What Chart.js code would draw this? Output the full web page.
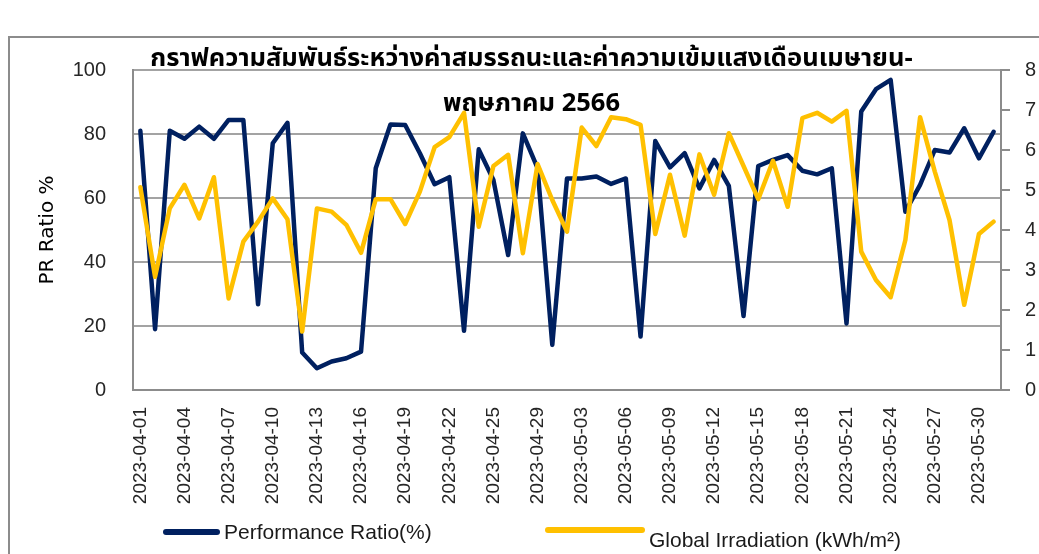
<!DOCTYPE html>
<html lang="th">
<head>
<meta charset="utf-8">
<title>PR Ratio / Global Irradiation</title>
<script src="https://cdn.jsdelivr.net/npm/chart.js@4.4.0/dist/chart.umd.min.js"></script>
<style>
  html, body { margin: 0; padding: 0; background: #fff; overflow: hidden; }
  #wrap { position: relative; width: 1039px; height: 554px; }
  /* outer chart frame, only its left and top edges fall inside the page */
  #frame { position: absolute; left: 8px; top: 36px; width: 1100px; height: 600px;
           border-left: 2px solid #8c8c8c; border-top: 2px solid #8c8c8c; }
  #prChart { position: absolute; left: 0; top: 0; }
  #legend .item { position: absolute; display: flex; align-items: center; white-space: nowrap;
                  font: 21px 'Liberation Sans', Arial, sans-serif; color: #1a1a1a; line-height: 24px; }
  #legend .swatch { height: 6px; border-radius: 3px; margin-right: 4px; }
  #legend .item-0 { left: 163px; top: 520px; }
  #legend .item-0 .swatch { width: 57px; }
  #legend .item-1 { left: 545px; top: 518px; }
  #legend .item-1 .swatch { width: 100px; }
  #legend .item-1 .label { position: relative; top: 10px; }
</style>
</head>
<body>
<div id="wrap">
  <div id="frame"></div>
  <canvas id="prChart" width="1039" height="554"></canvas>
  <div id="legend"></div>
</div>
<script>
// daily records, April - May 2023 (two days have no record)
const dates = [
  '2023-04-01', '2023-04-02', '2023-04-03', '2023-04-04', '2023-04-05', '2023-04-06',
  '2023-04-07', '2023-04-08', '2023-04-09', '2023-04-10', '2023-04-11', '2023-04-12',
  '2023-04-13', '2023-04-14', '2023-04-15', '2023-04-16', '2023-04-17', '2023-04-18',
  '2023-04-19', '2023-04-20', '2023-04-21', '2023-04-22', '2023-04-23', '2023-04-24',
  '2023-04-25', '2023-04-26', '2023-04-28', '2023-04-29', '2023-04-30', '2023-05-02',
  '2023-05-03', '2023-05-04', '2023-05-05', '2023-05-06', '2023-05-07', '2023-05-08',
  '2023-05-09', '2023-05-10', '2023-05-11', '2023-05-12', '2023-05-13', '2023-05-14',
  '2023-05-15', '2023-05-16', '2023-05-17', '2023-05-18', '2023-05-19', '2023-05-20',
  '2023-05-21', '2023-05-22', '2023-05-23', '2023-05-24', '2023-05-25', '2023-05-26',
  '2023-05-27', '2023-05-28', '2023-05-29', '2023-05-30', '2023-05-31'
];

// performance ratio, %
const prRatio = [
  81.0, 19.0, 81.0, 78.5, 82.3, 78.5, 84.4, 84.4, 26.8, 77.1,
  83.5, 11.7, 6.8, 8.9, 9.9, 12.0, 69.3, 83.0, 82.8, 74.0,
  64.3, 66.5, 18.5, 75.2, 65.6, 42.2, 80.2, 69.3, 14.1, 66.1,
  66.1, 66.7, 64.4, 66.1, 16.7, 77.8, 69.6, 74.0, 63.0, 71.9,
  63.8, 23.1, 70.0, 71.9, 73.4, 68.5, 67.4, 69.3, 20.8, 87.0,
  94.0, 96.9, 55.7, 64.1, 75.0, 74.2, 81.8, 72.4, 80.7
];

// global irradiation, kWh/m2
const irradiation = [
  5.07, 2.83, 4.54, 5.13, 4.29, 5.32, 2.29, 3.71, 4.21, 4.79,
  4.27, 1.46, 4.54, 4.46, 4.13, 3.43, 4.77, 4.77, 4.15, 4.96,
  6.07, 6.32, 6.93, 4.08, 5.60, 5.88, 3.42, 5.65, 4.75, 3.96,
  6.56, 6.10, 6.82, 6.77, 6.63, 3.90, 5.38, 3.86, 5.89, 4.88,
  6.42, 5.60, 4.77, 5.73, 4.58, 6.80, 6.93, 6.71, 6.98, 3.46,
  2.75, 2.32, 3.75, 6.82, 5.46, 4.25, 2.13, 3.90, 4.21
];

const titleLines = [
  'กราฟความสัมพันธ์ระหว่างค่าสมรรถนะและค่าความเข้มแสงเดือนเมษายน-',
  'พฤษภาคม 2566'
];

const navy = '#002060';
const gold = '#FFC000';
const gridGrey = '#a3a3a3';
const axisGrey = '#8c8c8c';
const tickText = '#262626';

Chart.defaults.font.family = "'Liberation Sans', Arial, sans-serif";

// two-line title, drawn under the lines so the series run over it
const titlePlugin = {
  id: 'twoLineTitle',
  beforeDatasetsDraw(chart) {
    const { ctx, chartArea } = chart;
    const cx = chart.width / 2 + 12;
    ctx.save();
    ctx.font = "bold 25.5px 'Noto Sans Thai', 'Noto Sans', Tahoma, sans-serif";
    ctx.fillStyle = '#000';
    ctx.textAlign = 'center';
    ctx.textBaseline = 'alphabetic';
    ctx.fillText(titleLines[0], cx, chartArea.top - 4);
    ctx.fillText(titleLines[1], cx, chartArea.top + 41);
    ctx.restore();
  }
};

const chart = new Chart(document.getElementById('prChart'), {
  type: 'line',
  data: {
    labels: dates,
    datasets: [
      {
        label: 'Performance Ratio(%)',
        data: prRatio,
        yAxisID: 'y',
        borderColor: navy,
        backgroundColor: navy,
        order: 1
      },
      {
        label: 'Global Irradiation (kWh/m²)',
        data: irradiation,
        yAxisID: 'y1',
        borderColor: gold,
        backgroundColor: gold,
        order: 0
      }
    ]
  },
  options: {
    responsive: false,
    animation: false,
    layout: { padding: { top: 70, bottom: 0, left: 0, right: 0 } },
    elements: {
      point: { radius: 0 },
      line: { borderWidth: 4.5, tension: 0, borderJoinStyle: 'round', borderCapStyle: 'round' }
    },
    plugins: {
      tooltip: { enabled: false },
      legend: { display: false }
    },
    scales: {
      x: {
        offset: true,
        grid: { drawOnChartArea: false, drawTicks: false },
        border: { display: true, color: axisGrey, width: 2 },
        ticks: {
          autoSkip: false,
          minRotation: 90,
          maxRotation: 90,
          padding: 17,
          color: tickText,
          font: { size: 19 },
          callback: function (val, i) {
            return i % 3 === 0 ? this.getLabelForValue(val) : '';
          }
        },
        afterFit: s => { s.height = 164; }
      },
      y: {
        position: 'left',
        min: 0,
        max: 100,
        ticks: { stepSize: 20, padding: 27, color: tickText, font: { size: 20 } },
        grid: { color: gridGrey, lineWidth: 2, drawTicks: false },
        border: { color: axisGrey, width: 2 },
        title: {
          display: true,
          text: 'PR Ratio %',
          color: '#000',
          font: { family: "'DejaVu Sans', sans-serif", size: 20 },
          padding: { top: 36, bottom: 0 }
        },
        afterFit: s => { s.width = 133; }
      },
      y1: {
        position: 'right',
        min: 0,
        max: 8,
        ticks: { stepSize: 1, padding: 15, color: tickText, font: { size: 20 } },
        grid: { drawOnChartArea: false, color: axisGrey, lineWidth: 2, tickLength: 9 },
        border: { color: axisGrey, width: 2 },
        afterFit: s => { s.width = 38; }
      }
    }
  },
  plugins: [titlePlugin]
});

// legend row below the axis, one entry per series
const legendEl = document.getElementById('legend');
chart.data.datasets.forEach((ds, i) => {
  const item = document.createElement('div');
  item.className = 'item item-' + i;
  item.innerHTML = `<span class="swatch" style="background:${ds.borderColor}"></span><span class="label">${ds.label}</span>`;
  legendEl.appendChild(item);
});
</script>
</body>
</html>
